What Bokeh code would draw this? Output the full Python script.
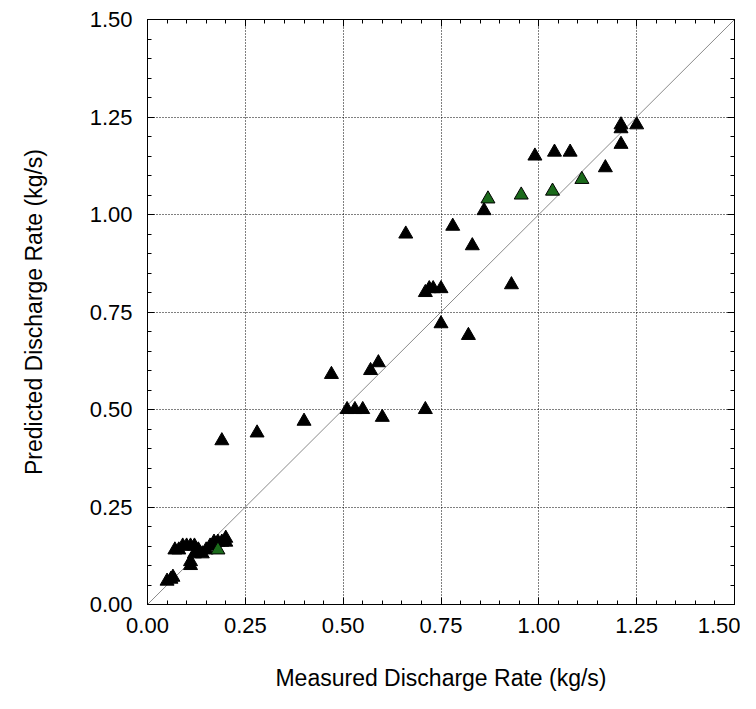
from bokeh.plotting import figure
from bokeh.models import LinearAxis, Range1d, NumeralTickFormatter, SingleIntervalTicker, CustomJSTickFormatter
from bokeh.embed import file_html
from bokeh.resources import INLINE

# Axis settings
axis_min = 0.0
axis_max = 1.5
tick_step = 0.25

# Black markers: measured vs predicted discharge rate (kg/s)
black_measured = [0.05, 0.06, 0.065, 0.07, 0.08, 0.09, 0.10, 0.11, 0.12, 0.13,
                  0.14, 0.15, 0.11, 0.11, 0.12, 0.16, 0.17, 0.18, 0.19, 0.20, 0.20,
                  0.19, 0.28, 0.40, 0.47, 0.51, 0.53, 0.55, 0.57, 0.59, 0.60,
                  0.66, 0.71, 0.71, 0.72, 0.73, 0.75, 0.75, 0.78, 0.82, 0.83,
                  0.86, 0.93, 0.99, 1.04, 1.08, 1.17, 1.21, 1.21, 1.21, 1.25]
black_predicted = [0.06, 0.065, 0.07, 0.14, 0.14, 0.15, 0.15, 0.15, 0.15, 0.14,
                   0.13, 0.14, 0.10, 0.11, 0.13, 0.15, 0.16, 0.16, 0.16, 0.17, 0.16,
                   0.42, 0.44, 0.47, 0.59, 0.50, 0.50, 0.50, 0.60, 0.62, 0.48,
                   0.95, 0.50, 0.80, 0.81, 0.81, 0.81, 0.72, 0.97, 0.69, 0.92,
                   1.01, 0.82, 1.15, 1.16, 1.16, 1.12, 1.22, 1.23, 1.18, 1.23]

# Green markers
green_measured = [0.18, 0.87, 0.955, 1.035, 1.11]
green_predicted = [0.14, 1.04, 1.05, 1.06, 1.09]

# Identity (1:1) line endpoints from the axis limits
identity = [axis_min, axis_max]

FONT = "Liberation Sans"

p = figure(width=740, height=693,
           x_range=Range1d(axis_min, axis_max), y_range=Range1d(axis_min, axis_max),
           output_backend="svg", toolbar_location=None,
           min_border_left=147, min_border_right=6, min_border_top=19, min_border_bottom=88,
           x_axis_label="Measured Discharge Rate (kg/s)",
           y_axis_label="Predicted Discharge Rate (kg/s)")

p.outline_line_color = "black"
p.outline_line_width = 1
p.background_fill_color = "white"
p.border_fill_color = "white"

def style_axis(ax, labels=True):
    ax.ticker = SingleIntervalTicker(interval=tick_step, num_minor_ticks=5)
    ax.axis_line_color = "black"
    ax.major_tick_line_color = "black"
    ax.minor_tick_line_color = "black"
    ax.major_tick_in = 7
    ax.major_tick_out = 0
    ax.minor_tick_in = 4
    ax.minor_tick_out = 0
    if labels:
        ax.formatter = NumeralTickFormatter(format="0.00")
        ax.major_label_text_font = FONT
        ax.major_label_text_font_size = "22px"
        ax.major_label_text_color = "black"
        ax.axis_label_text_font = FONT
        ax.axis_label_text_font_size = "23px"
        ax.axis_label_text_font_style = "normal"
        ax.axis_label_text_color = "black"
    else:
        ax.formatter = CustomJSTickFormatter(code="return ''")
        ax.major_label_text_font_size = "1px"
        ax.major_label_standoff = 0

xa = p.xaxis[0]
ya = p.yaxis[0]
style_axis(xa)
style_axis(ya)
xa.major_label_standoff = 13
xa.axis_label_standoff = 29
ya.major_label_standoff = 15
ya.axis_label_standoff = 40

top_ax = LinearAxis()
right_ax = LinearAxis()
style_axis(top_ax, labels=False)
style_axis(right_ax, labels=False)
p.add_layout(top_ax, "above")
p.add_layout(right_ax, "right")

for g in (p.xgrid[0], p.ygrid[0]):
    g.ticker = SingleIntervalTicker(interval=tick_step)
    g.grid_line_color = "black"
    g.grid_line_dash = "1 2"
    g.grid_line_width = 1

p.line(identity, identity, line_color="#8a8a8a", line_width=1)

p.scatter(black_measured, black_predicted, marker="triangle", size=14,
          fill_color="black", line_color="black", line_width=1)
p.scatter(green_measured, green_predicted, marker="triangle", size=14,
          fill_color="#1b6a1b", line_color="black", line_width=1)

open("out.html", "w").write(file_html(p, INLINE))
